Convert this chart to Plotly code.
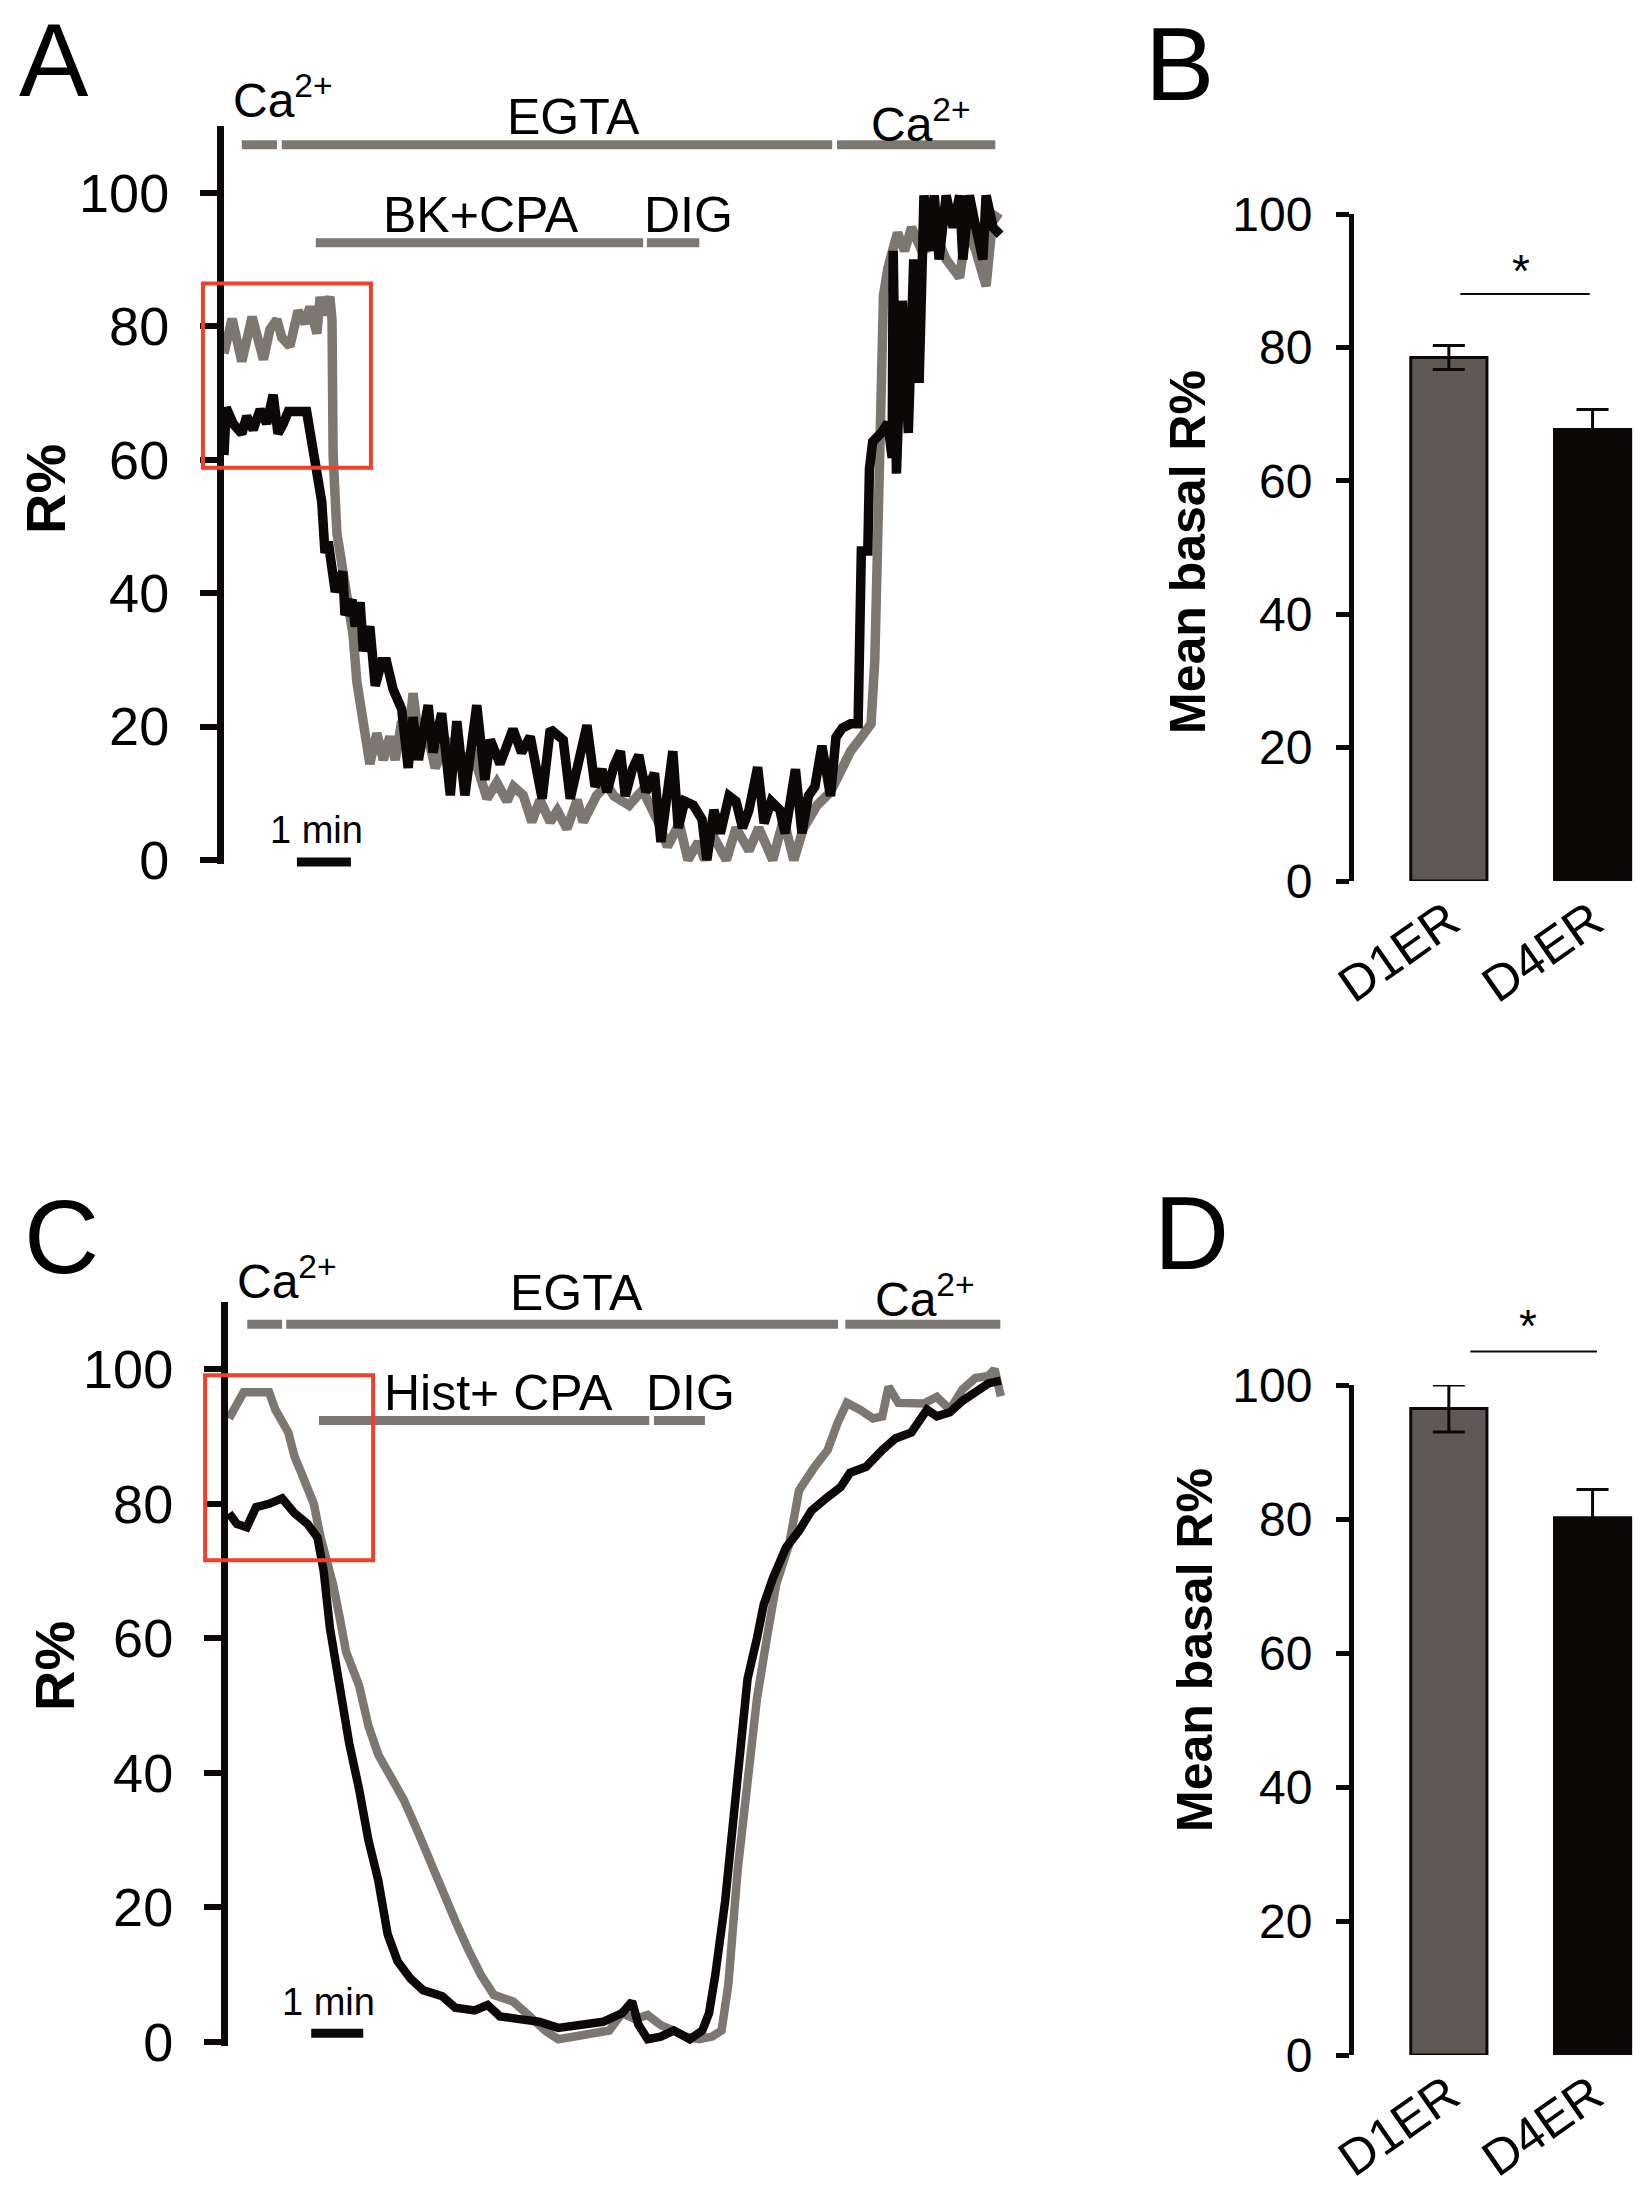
import plotly.graph_objects as go

W, H = 1650, 2191

# ---------------- data (time in min, R%) ----------------
# panel A: BK + CPA
a_gray_t = [0, 0.15, 0.33, 0.52, 0.73, 0.85, 0.98, 1.07, 1.22, 1.37, 1.5, 1.59, 1.72, 1.78, 1.84, 1.96, 2.0,
            2.02, 2.09, 2.18, 2.28, 2.39, 2.46, 2.56, 2.7, 2.83, 2.95, 3.07, 3.17, 3.29, 3.39, 3.5, 3.63, 3.75,
            3.91, 4.13, 4.37, 4.61, 4.87, 5.05, 5.24, 5.36, 5.54, 5.7, 5.85, 6.04, 6.17, 6.35, 6.54, 6.65, 6.9,
            7.09, 7.22, 7.5, 7.75, 8.05, 8.21, 8.43, 8.59, 8.78, 8.9, 9.03, 9.3, 9.48, 9.72, 9.9, 10.16, 10.36,
            10.55, 10.73, 10.98, 11.23, 11.42, 11.6, 11.8, 11.98, 12.05, 12.11, 12.14, 12.21, 12.29, 12.47,
            12.6, 12.73, 12.92, 13.24, 13.37, 13.62, 13.75, 13.92, 14.11, 14.24, 14.37]
a_gray_v = [75.9, 81.1, 74.7, 81.4, 75, 79.5, 81, 78.3, 77, 82.3, 80.4, 82.9, 78.9, 84.4, 81.7, 84.4, 81,
            60.7, 49, 44.2, 40.2, 33.7, 26.7, 20.8, 14.4, 19, 15, 18.5, 15, 20.8, 16, 25, 16.5, 19.5,
            13.8, 18, 15, 16, 9.2, 11.6, 8.8, 11, 9.7, 5.7, 9, 5.7, 7.4, 4.7, 9, 5.7, 9.7,
            11.3, 9.6, 8.2, 10.5, 5.5, 2.0, 5.5, 0, 2.7, 0, 4, 0, 4.8, 1.4, 4.8, 0, 6.1,
            0, 4.8, 8.2, 10.2, 13, 16.3, 18.4, 20.4, 30, 50.4, 71, 84.6, 88.7, 94,
            91.3, 94.8, 91.3, 92.5, 90, 87.3, 94.8, 91.3, 86, 96.7, 96]

a_black_t = [0, 0.04, 0.17, 0.33, 0.42, 0.54, 0.67, 0.79, 0.91, 1.0, 1.1, 1.19, 1.53, 1.63, 1.7, 1.75, 1.81,
             1.87, 1.93, 2.06, 2.2, 2.24, 2.37, 2.43, 2.52, 2.58, 2.7, 2.8, 2.92, 3.01, 3.13, 3.29, 3.41, 3.5,
             3.6, 3.78, 3.87, 4.03, 4.19, 4.31, 4.46, 4.68, 4.83, 4.93, 5.11, 5.35, 5.51, 5.67, 5.89, 6.04,
             6.28, 6.41, 6.56, 6.72, 6.87, 7.0, 7.09, 7.22, 7.34, 7.43, 7.56, 7.68, 7.81, 7.97, 8.09, 8.21,
             8.31, 8.41, 8.53, 8.69, 8.85, 8.94, 9.07, 9.19, 9.35, 9.48, 9.6, 9.72, 9.88, 10.0, 10.13, 10.29,
             10.39, 10.58, 10.7, 10.82, 10.94, 11.07, 11.23, 11.33, 11.45, 11.6, 11.74, 11.8, 11.92, 11.95,
             12.01, 12.17, 12.29, 12.37, 12.39, 12.45, 12.56, 12.67, 12.77, 12.87, 12.96, 13.06, 13.15,
             13.24, 13.37, 13.5, 13.62, 13.68, 13.8, 13.92, 14.05, 14.11, 14.24, 14.37]
a_black_v = [60.7, 67.8, 65.4, 63.9, 66.5, 64.5, 67.5, 65.4, 69.7, 63.9, 65.4, 67.2, 67.2, 62.4, 60.1, 56, 53.7,
             46, 47.7, 40.2, 43.2, 36.7, 39, 35, 38.6, 31.3, 35, 26.1, 29.7, 29.7, 25.6, 22.6, 13.8, 21.4,
             15, 23.2, 16.1, 22, 9.7, 20.8, 9.7, 23.2, 12, 18, 14.4, 19.6, 16.1, 18.5, 9.2, 19.6,
             18, 9.2, 14.4, 20.2, 11, 13.6, 10.2, 14.1, 16.3, 9.6, 13.6, 15.7, 10.2, 13, 2.7, 11,
             16.3, 4.8, 8.8, 8.2, 6.1, 0, 7.5, 4.0, 9.6, 8.8, 4.8, 7.5, 13.9, 5.5, 8.8, 7.5,
             4.0, 13.6, 4.0, 9.6, 11, 17.1, 9.6, 18.4, 19.8, 20.4, 20.4, 46.3, 46.3, 58.6,
             62.7, 64, 65.5, 60.3, 91.3, 57.9, 83.8, 64, 90, 71.5, 99.6, 91.3, 99.6,
             90, 99.6, 94.8, 99.6, 90, 99.6, 94.8, 90, 99.6, 94.8, 93.7]

# panel C: Hist + CPA
c_gray_t = [0.02, 0.3, 0.79, 0.91, 1.16, 1.28, 1.41, 1.65, 1.78, 1.9, 2.02, 2.15, 2.27, 2.52, 2.7, 2.89, 3.14,
            3.38, 3.63, 3.88, 4.12, 4.37, 4.62, 4.86, 5.11, 5.48, 5.73, 6.1, 6.35, 6.72, 7.09, 7.33, 7.58,
            7.83, 8.07, 8.32, 8.57, 8.81, 9.06, 9.31, 9.49, 9.62, 9.8, 9.93, 10.05, 10.17, 10.36, 10.54,
            10.79, 10.98, 11.28, 11.53, 11.72, 11.9, 12.15, 12.4, 12.58, 12.7, 12.89, 13.14, 13.38, 13.63,
            13.88, 14.12, 14.37, 14.62, 14.74, 14.86]
c_gray_v = [92.7, 96.6, 96.6, 94, 90.6, 87, 84.6, 80, 75, 71.8, 68, 63, 58, 53, 47, 42.7, 39,
            36, 31.6, 27, 22, 18, 13.7, 10, 7, 6, 4.3, 1.7, 0.4, 0.8, 1.3, 1.7, 4.3,
            3.4, 4, 2.5, 1.7, 0.8, 0.4, 0.8, 1.7, 8.5, 25.6, 34, 42.7, 51, 60, 68,
            74, 82, 85.5, 88, 92, 95, 94, 92.7, 93, 97.4, 95, 95, 94.9, 95.9,
            94, 97, 98.7, 99, 100, 96]

c_black_t = [0.02, 0.17, 0.36, 0.54, 0.79, 1.04, 1.28, 1.53, 1.72, 1.84, 1.96, 2.09, 2.21, 2.33, 2.52, 2.7,
             2.89, 3.07, 3.26, 3.51, 3.75, 4.12, 4.37, 4.74, 4.99, 5.23, 5.6, 5.98, 6.35, 6.72, 7.21, 7.58,
             7.77, 7.89, 8.07, 8.32, 8.57, 8.88, 9.12, 9.25, 9.37, 9.56, 9.74, 9.86, 9.99, 10.17, 10.3,
             10.48, 10.73, 10.98, 11.22, 11.53, 11.78, 11.96, 12.27, 12.58, 12.83, 13.14, 13.44, 13.63,
             13.88, 14.12, 14.37, 14.62, 14.86]
c_black_v = [78.6, 77, 76.5, 79.5, 80, 80.8, 78.6, 77, 75, 70, 61.5, 55.6, 49.6, 44.4, 37.6, 30,
             24, 16, 12, 9.4, 7.7, 6.8, 5.1, 4.7, 5.5, 3.8, 3.4, 3, 2.1, 2.6, 3, 4.3,
             6, 2.6, 0.4, 0.8, 1.7, 0.4, 1.7, 4.3, 10, 21, 34, 43, 54, 60, 65,
             69, 73.5, 76, 79, 81, 82.5, 84.6, 85.5, 88, 89.7, 90.6, 94, 93,
             93.6, 95.3, 96.6, 97.9, 98.3]

# stimulus periods (min)
a_top_bars = [(0.33, 0.98), (1.07, 11.26), (11.35, 14.28)]
a_low_bars = [(1.7, 7.76), (7.83, 8.8)]
c_top_bars = [(0.37, 1.04), (1.12, 11.73), (11.87, 14.85)]
c_low_bars = [(1.75, 8.1), (8.19, 9.17)]

# bar panels
groups = ["D1ER", "D4ER"]
b_mean = [78.5, 67.7]
b_sem = [1.8, 3.0]
d_mean = [96.5, 80.2]
d_sem = [3.5, 4.2]
y_ticks = [0, 20, 40, 60, 80, 100]

GRAY = "#7d7772"
BLACK = "#0b0807"
BARGRAY = "#5f5955"
RED = "#f0402d"
FONT = "Liberation Sans, Arial, sans-serif"


def dom_x(p0, p1):
    return [p0 / W, p1 / W]


def dom_y(top, bottom):
    return [1 - bottom / H, 1 - top / H]


# panel geometry: (x domain, x range, y domain, y range)
PA = (dom_x(224, 1005), [0, 14.46], dom_y(126, 864), [-0.6, 110])
PC = (dom_x(228, 1005), [0, 14.94], dom_y(1302, 2046), [-0.6, 110])
PB = (dom_x(1354, 1640), [-0.66, 1.33], dom_y(214, 881), [0, 100])
PD = (dom_x(1354, 1640), [-0.66, 1.33], dom_y(1385, 2055), [0, 100])


def to_paper(p, x, y):
    dx, rx, dy, ry = p
    xp = dx[0] + (x - rx[0]) / (rx[1] - rx[0]) * (dx[1] - dx[0])
    yp = dy[0] + (y - ry[0]) / (ry[1] - ry[0]) * (dy[1] - dy[0])
    return xp, yp


fig = go.Figure()

# traces
fig.add_trace(go.Scatter(x=a_gray_t, y=a_gray_v, mode="lines", line=dict(color=GRAY, width=9.5),
                         xaxis="x", yaxis="y"))
fig.add_trace(go.Scatter(x=a_black_t, y=a_black_v, mode="lines", line=dict(color=BLACK, width=9.5),
                         xaxis="x", yaxis="y"))
fig.add_trace(go.Scatter(x=c_gray_t, y=c_gray_v, mode="lines", line=dict(color=GRAY, width=8.5),
                         xaxis="x3", yaxis="y3"))
fig.add_trace(go.Scatter(x=c_black_t, y=c_black_v, mode="lines", line=dict(color=BLACK, width=8.5),
                         xaxis="x3", yaxis="y3"))

fig.add_trace(go.Bar(x=groups, y=b_mean, width=0.53, xaxis="x2", yaxis="y2",
                     marker=dict(color=[BARGRAY, BLACK], line=dict(color=BLACK, width=3)),
                     error_y=dict(type="data", array=b_sem, color=BLACK, thickness=3, width=16)))
fig.add_trace(go.Bar(x=groups, y=d_mean, width=0.53, xaxis="x4", yaxis="y4",
                     marker=dict(color=[BARGRAY, BLACK], line=dict(color=BLACK, width=3)),
                     error_y=dict(type="data", array=d_sem, color=BLACK, thickness=3, width=16)))

shapes = []
annotations = []


def hline(p, x0, x1, y, color, width):
    a = to_paper(p, x0, y)
    b = to_paper(p, x1, y)
    shapes.append(dict(type="line", xref="paper", yref="paper", x0=a[0], x1=b[0], y0=a[1], y1=b[1],
                       line=dict(color=color, width=width)))


def label(p, x, y, text, size):
    xp, yp = to_paper(p, x, y)
    annotations.append(dict(xref="paper", yref="paper", x=xp, y=yp, text=text, showarrow=False,
                            font=dict(size=size, color="black", family=FONT),
                            xanchor="center", yanchor="middle"))


def red_box(p, x0, x1, y0, y1):
    a = to_paper(p, x0, y0)
    b = to_paper(p, x1, y1)
    shapes.append(dict(type="rect", xref="paper", yref="paper", x0=a[0], x1=b[0], y0=a[1], y1=b[1],
                       line=dict(color=RED, width=4), fillcolor="rgba(0,0,0,0)"))


# panel A decorations
for s, e in a_top_bars:
    hline(PA, s, e, 107.2, GRAY, 9)
for s, e in a_low_bars:
    hline(PA, s, e, 92.5, GRAY, 9)
label(PA, 1.1, 114.3, "Ca<sup>2+</sup>", 48)
label(PA, 6.48, 111.3, "EGTA", 50)
label(PA, 12.9, 110.8, "Ca<sup>2+</sup>", 48)
label(PA, 4.76, 96.6, "BK+CPA", 50)
label(PA, 8.6, 96.6, "DIG", 50)
red_box(PA, -0.39, 2.72, 58.8, 86.4)
hline(PA, 1.35, 2.35, -0.3, BLACK, 9)
label(PA, 1.72, 4.5, "1 min", 38)

# panel C decorations
for s, e in c_top_bars:
    hline(PC, s, e, 106.7, GRAY, 9)
for s, e in c_low_bars:
    hline(PC, s, e, 92.4, GRAY, 9)
label(PC, 1.13, 113.5, "Ca<sup>2+</sup>", 48)
label(PC, 6.71, 111.3, "EGTA", 50)
label(PC, 13.4, 110.9, "Ca<sup>2+</sup>", 48)
label(PC, 5.21, 96.4, "Hist+ CPA", 50)
label(PC, 8.9, 96.4, "DIG", 50)
red_box(PC, -0.44, 2.79, 71.6, 99.1)
hline(PC, 1.6, 2.6, 1.3, BLACK, 9)
label(PC, 1.94, 6.0, "1 min", 38)

# significance
hline(PB, 0.08, 0.98, 88, BLACK, 2)
label(PB, 0.5, 91.5, "*", 46)
hline(PD, 0.15, 1.03, 105, BLACK, 2)
label(PD, 0.55, 108.8, "*", 46)

# panel letters and axis titles (pixel positions)
for txt, x, y in [("A", 54, 60), ("B", 1179, 64), ("C", 61, 1237), ("D", 1191, 1233)]:
    annotations.append(dict(xref="paper", yref="paper", x=x / W, y=1 - y / H, text=txt, showarrow=False,
                            xanchor="center", yanchor="middle",
                            font=dict(size=104, color="black", family=FONT)))
for txt, x, y, s in [("<b>R%</b>", 45, 489, 56), ("<b>R%</b>", 54, 1666, 56),
                     ("<b>Mean basal R%</b>", 1188, 552, 50), ("<b>Mean basal R%</b>", 1195, 1650, 50)]:
    annotations.append(dict(xref="paper", yref="paper", x=x / W, y=1 - y / H, text=txt, showarrow=False,
                            xanchor="center", yanchor="middle", textangle=-90,
                            font=dict(size=s, color="black", family=FONT)))


def trace_yaxis(p, anchor, size):
    return dict(domain=p[2], range=p[3], anchor=anchor, showline=True, linewidth=7, linecolor=BLACK,
                ticks="outside", ticklen=17, tickwidth=6, tickcolor=BLACK, tickvals=y_ticks,
                tickfont=dict(size=size, color="black", family=FONT), ticklabelstandoff=20,
                showgrid=False, zeroline=False, automargin=False)


def bar_yaxis(p, anchor):
    return dict(domain=p[2], range=p[3], anchor=anchor, showline=True, linewidth=5, linecolor=BLACK,
                ticks="outside", ticklen=13, tickwidth=5, tickcolor=BLACK, tickvals=y_ticks,
                tickfont=dict(size=48, color="black", family=FONT), ticklabelstandoff=14,
                showgrid=False, zeroline=False, automargin=False)


def bar_xaxis(p, anchor):
    return dict(domain=p[0], range=p[1], anchor=anchor, showline=False, ticks="", tickangle=-35,
                tickfont=dict(size=50, color="black", family=FONT), showgrid=False, zeroline=False,
                automargin=False)


fig.update_layout(
    width=W, height=H,
    margin=dict(l=0, r=0, t=0, b=0, autoexpand=False),
    paper_bgcolor="white", plot_bgcolor="white",
    showlegend=False,
    font=dict(family=FONT, color="black"),
    xaxis=dict(domain=PA[0], range=PA[1], anchor="y", visible=False, automargin=False),
    yaxis=trace_yaxis(PA, "x", 54),
    xaxis3=dict(domain=PC[0], range=PC[1], anchor="y3", visible=False, automargin=False),
    yaxis3=trace_yaxis(PC, "x3", 54),
    xaxis2=bar_xaxis(PB, "y2"),
    yaxis2=bar_yaxis(PB, "x2"),
    xaxis4=bar_xaxis(PD, "y4"),
    yaxis4=bar_yaxis(PD, "x4"),
    shapes=shapes,
    annotations=annotations,
)

fig.write_html("out.html", config={"displayModeBar": False},
               post_script="document.body.style.margin='0';")
